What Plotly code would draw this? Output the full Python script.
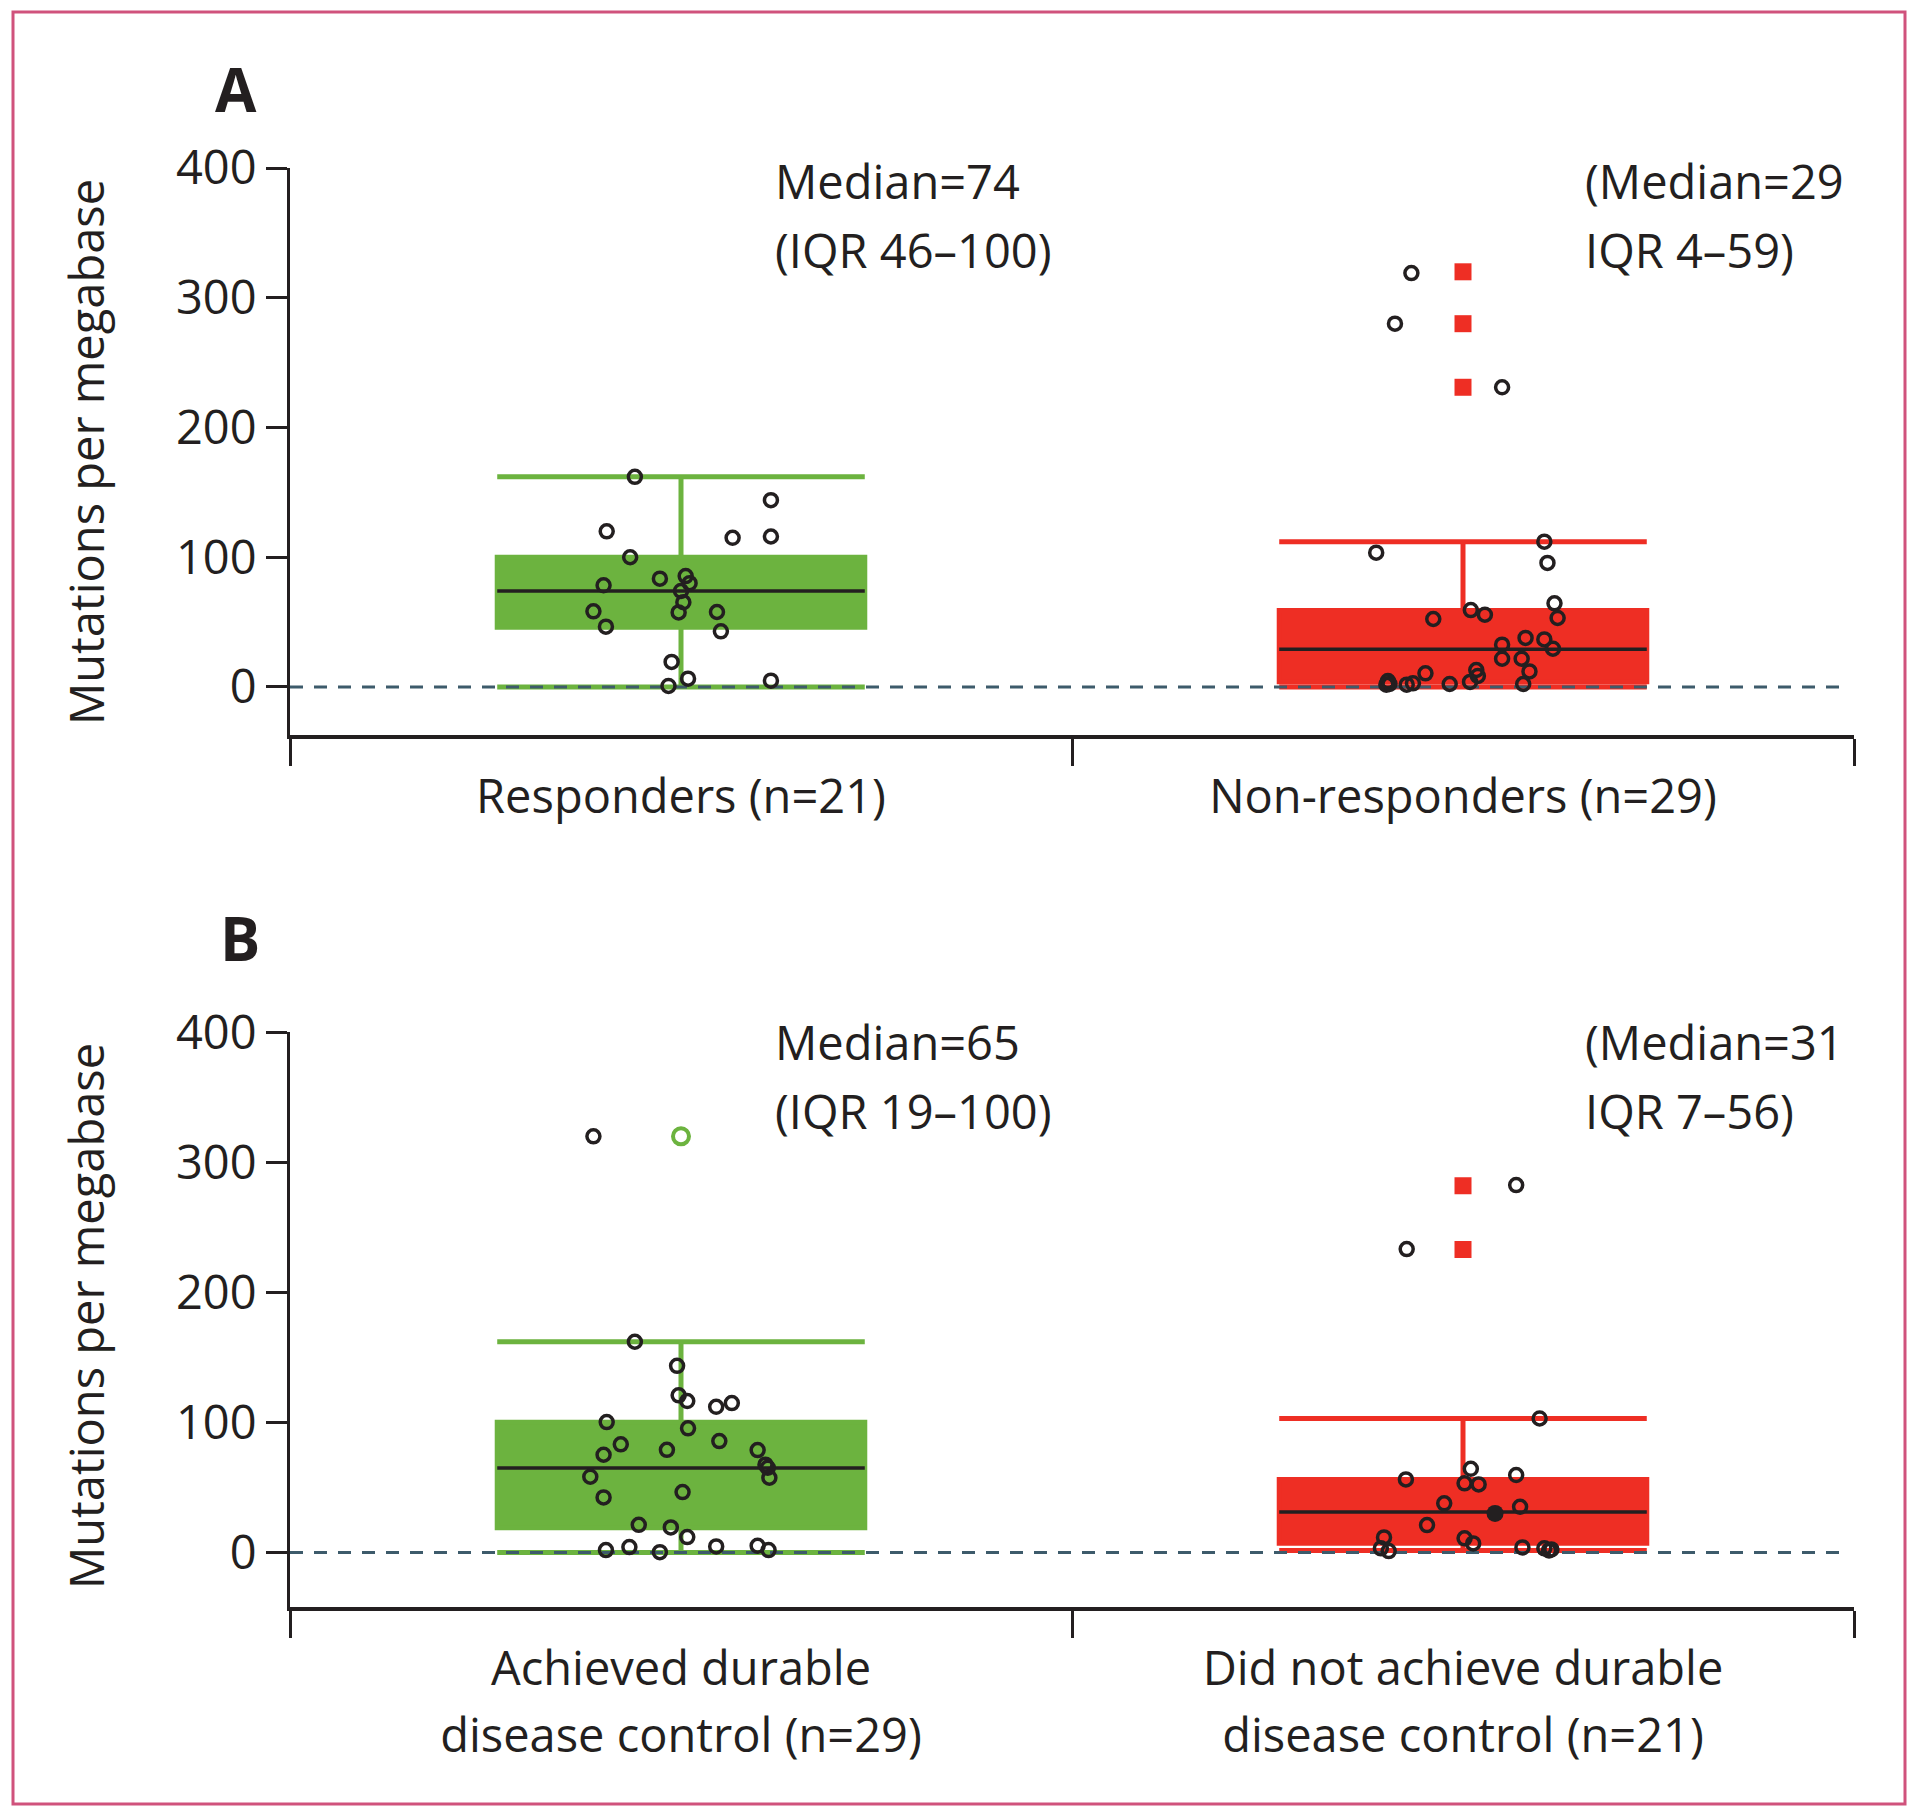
import plotly.graph_objects as go

# reference canvas is 1920x1818; the page body adds an 8px margin
REF_W, REF_H = 1920, 1818
OFF = 8
W, H = REF_W - 2 * OFF, REF_H - 2 * OFF

GREEN = "#6cb33f"
RED = "#ee2e24"
INK = "#231f20"
DASHC = "#3d5b6b"
FONT = "Open Sans"

# ---------------- data ----------------
a_categories = ["Responders (n=21)", "Non-responders (n=29)"]
b_categories_line1 = ["Achieved durable", "Did not achieve durable"]
b_categories_line2 = ["disease control (n=29)", "disease control (n=21)"]
cat_pos = [0.5, 1.5]

# box statistics: lowerfence, q1, median, q3, upperfence
a_resp_stats = [0, 46, 74, 100, 162]
a_nonresp_stats = [0, 4, 29, 59, 112]
b_dur_stats = [0, 19, 65, 100, 162]
b_nondur_stats = [1.5, 7, 31, 56, 103]

# outlier markers drawn by the box plot
a_nonresp_outliers = [320, 280, 231]
b_dur_outliers = [320]
b_nondur_outliers = [282, 233]

# individual patients (value, horizontal jitter)
a_resp_values = [162, 144, 120, 115, 116, 100, 83.5, 85.5, 80, 78.4, 74, 65.3, 58.3,
                 57.5, 57.8, 46.5, 42.9, 19.3, 6.4, 4.9, 0.8]
a_resp_jitter = [-0.059, 0.115, -0.095, 0.066, 0.115, -0.065, -0.027, 0.006, 0.011,
                 -0.099, 0.0, 0.003, -0.112, -0.003, 0.046, -0.096, 0.051, -0.012,
                 0.009, 0.115, -0.016]

a_nonresp_values = [319, 280, 231, 103.5, 112, 95.6, 64.5, 53.2, 52.4, 59.3, 55.7,
                    32.6, 37.8, 36.7, 29.5, 21.8, 21.8, 12.0, 13.1, 8.5, 3.9, 10.5,
                    2.3, 4.6, 2.3, 1.8, 2.8, 2.3, 1.8]
a_nonresp_jitter = [-0.066, -0.087, 0.050, -0.111, 0.104, 0.108, 0.117, 0.121,
                    -0.038, 0.010, 0.028, 0.050, 0.080, 0.104, 0.115, 0.050, 0.075,
                    0.085, 0.017, 0.019, 0.009, -0.048, -0.017, -0.096, -0.094,
                    -0.072, -0.064, 0.077, -0.098]

b_dur_values = [320, 162, 143.5, 120.8, 116.4, 112, 114.8, 100.2, 95.4, 83.1, 75.1,
                78.9, 85.6, 78.7, 65.1, 57.4, 58.2, 42.3, 46.4, 21.2, 19.2, 11.8,
                1.8, 4.1, 0.2, 4.6, 5.1, 1.8, 67.5]
b_dur_jitter = [-0.112, -0.059, -0.005, -0.003, 0.008, 0.045, 0.065, -0.095, 0.009,
                -0.077, -0.099, -0.018, 0.049, 0.098, 0.111, 0.113, -0.116, -0.099,
                0.002, -0.054, -0.013, 0.008, -0.096, -0.066, -0.027, 0.045, 0.098,
                0.112, 0.108]

b_nondur_values = [282.5, 233.3, 103, 64.3, 59.5, 56.1, 53.1, 52.3, 37.7, 35.1, 21,
                   11.5, 10.8, 6.9, 3.1, 1.0, 3.8, 3.1, 2.3, 1.5]
b_nondur_jitter = [0.068, -0.072, 0.098, 0.010, 0.068, -0.073, 0.002, 0.020, -0.024,
                   0.073, -0.046, -0.101, 0.002, 0.013, -0.105, -0.095, 0.076, 0.104,
                   0.113, 0.110]
b_nondur_filled_values = [30]
b_nondur_filled_jitter = [0.041]

a_text = [["Median=74", "(IQR 46–100)"], ["(Median=29", "IQR 4–59)"]]
b_text = [["Median=65", "(IQR 19–100)"], ["(Median=31", "IQR 7–56)"]]

BOX_W = 0.47

fig = go.Figure()


def add_group(xa, ya, pos, stats, color, outliers=None, outlier_symbol="square"):
    lf, q1, med, q3, uf = stats
    fig.add_trace(go.Box(
        x=[pos], q1=[q1], median=[med], q3=[q3], lowerfence=[lf], upperfence=[uf],
        width=BOX_W, whiskerwidth=1, fillcolor=color,
        line=dict(color=color, width=5), boxpoints=False,
        xaxis=xa, yaxis=ya, hoverinfo="skip"))
    fig.add_trace(go.Scatter(
        x=[pos - BOX_W / 2, pos + BOX_W / 2], y=[med, med], mode="lines",
        line=dict(color=INK, width=3.5), xaxis=xa, yaxis=ya, hoverinfo="skip"))
    if outliers:
        if outlier_symbol == "square":
            mk = dict(symbol="square", size=17, color=color, line=dict(width=0))
        else:
            mk = dict(symbol="circle-open", size=16, color=color,
                      line=dict(width=4, color=color))
        fig.add_trace(go.Scatter(
            x=[pos] * len(outliers), y=outliers, mode="markers", marker=mk,
            xaxis=xa, yaxis=ya, hoverinfo="skip"))


def add_points(xa, ya, pos, values, jitter, filled_values=None, filled_jitter=None):
    fig.add_trace(go.Scatter(
        x=[pos + j for j in jitter], y=values, mode="markers",
        marker=dict(symbol="circle-open", size=13, color=INK,
                    line=dict(width=3.5, color=INK)),
        xaxis=xa, yaxis=ya, hoverinfo="skip"))
    if filled_values:
        fig.add_trace(go.Scatter(
            x=[pos + j for j in filled_jitter], y=filled_values, mode="markers",
            marker=dict(symbol="circle", size=17, color=INK),
            xaxis=xa, yaxis=ya, hoverinfo="skip"))


def zero_line(xa, ya):
    fig.add_trace(go.Scatter(
        x=[0, 1.99], y=[0, 0], mode="lines",
        line=dict(color=DASHC, width=3, dash="13px,11px"),
        xaxis=xa, yaxis=ya, hoverinfo="skip"))


# Panel A
add_group("x", "y", cat_pos[0], a_resp_stats, GREEN)
add_group("x", "y", cat_pos[1], a_nonresp_stats, RED, outliers=a_nonresp_outliers)
zero_line("x", "y")
add_points("x", "y", cat_pos[0], a_resp_values, a_resp_jitter)
add_points("x", "y", cat_pos[1], a_nonresp_values, a_nonresp_jitter)

# Panel B
add_group("x2", "y2", cat_pos[0], b_dur_stats, GREEN,
          outliers=b_dur_outliers, outlier_symbol="circle")
add_group("x2", "y2", cat_pos[1], b_nondur_stats, RED, outliers=b_nondur_outliers)
zero_line("x2", "y2")
add_points("x2", "y2", cat_pos[0], b_dur_values, b_dur_jitter)
add_points("x2", "y2", cat_pos[1], b_nondur_values, b_nondur_jitter,
           b_nondur_filled_values, b_nondur_filled_jitter)

# empty trace so the second-line label axis of panel B is rendered
fig.add_trace(go.Scatter(x=cat_pos, y=[None, None], mode="markers",
                         xaxis="x3", yaxis="y2", hoverinfo="skip"))


def px_x(px):
    return (px - OFF) / W


def px_y(py):
    return 1 - (py - OFF) / H


X_DOMAIN = [px_x(290), px_x(1854)]


def xaxis_cfg(labels, label_gap, with_line=True):
    cfg = dict(
        domain=X_DOMAIN, range=[0, 2], showgrid=False, zeroline=False,
        showline=with_line, linecolor=INK, linewidth=4, automargin=False,
        tickmode="array", tickvals=cat_pos, ticktext=labels,
        ticks="outside", ticklen=label_gap, tickcolor="rgba(0,0,0,0)",
        tickfont=dict(family=FONT, size=47, color=INK), fixedrange=True)
    if with_line:
        cfg["minor"] = dict(tickmode="array", tickvals=[0, 1, 2], ticks="outside",
                            ticklen=27, tickwidth=3, tickcolor=INK, showgrid=False)
    return cfg


def yaxis_cfg(domain, rng):
    return dict(
        domain=domain, range=rng, showgrid=False, zeroline=False,
        showline=True, linecolor=INK, linewidth=3, automargin=False,
        tickmode="array", tickvals=[0, 100, 200, 300, 400],
        ticks="outside", ticklen=21, tickwidth=3, tickcolor=INK,
        tickfont=dict(family=FONT, size=47, color=INK), fixedrange=True)


annotations = []


def txt(text, px, py, size=47, xanchor="left", angle=0, bold=False):
    annotations.append(dict(
        text=("<b>%s</b>" % text) if bold else text, x=px_x(px), y=px_y(py),
        xref="paper", yref="paper", xanchor=xanchor, yanchor="middle",
        showarrow=False, textangle=angle,
        font=dict(family=FONT, size=size, color=INK)))


txt("A", 236, 89, size=60, xanchor="center", bold=True)
txt("B", 240, 938, size=60, xanchor="center", bold=True)
txt("Mutations per megabase", 86, 452, xanchor="center", angle=-90)
txt("Mutations per megabase", 86, 1316, xanchor="center", angle=-90)
txt(a_text[0][0], 773, 181)
txt(a_text[0][1], 773, 250)
txt(a_text[1][0], 1583, 181)
txt(a_text[1][1], 1583, 250)
txt(b_text[0][0], 773, 1042)
txt(b_text[0][1], 773, 1111)
txt(b_text[1][0], 1583, 1042)
txt(b_text[1][1], 1583, 1111)

fig.update_layout(
    width=W, height=H, margin=dict(l=0, r=0, t=0, b=0, autoexpand=False),
    paper_bgcolor="white", plot_bgcolor="white", showlegend=False,
    xaxis=dict(xaxis_cfg(a_categories, 18), anchor="y"),
    yaxis=dict(yaxis_cfg([px_y(735), px_y(168)], [-37, 400]), anchor="x"),
    xaxis2=dict(xaxis_cfg(b_categories_line1, 18), anchor="y2"),
    xaxis3=dict(xaxis_cfg(b_categories_line2, 88, with_line=False),
                anchor="y2", overlaying="x2"),
    yaxis2=dict(yaxis_cfg([px_y(1607), px_y(1032.3)], [-42, 400]), anchor="x2"),
    annotations=annotations,
    shapes=[dict(type="rect", xref="paper", yref="paper",
                 x0=px_x(13), x1=px_x(1905), y0=px_y(1804), y1=px_y(12),
                 line=dict(color="#d0527c", width=3), fillcolor="rgba(0,0,0,0)")],
)

fig.write_html("out.html")
